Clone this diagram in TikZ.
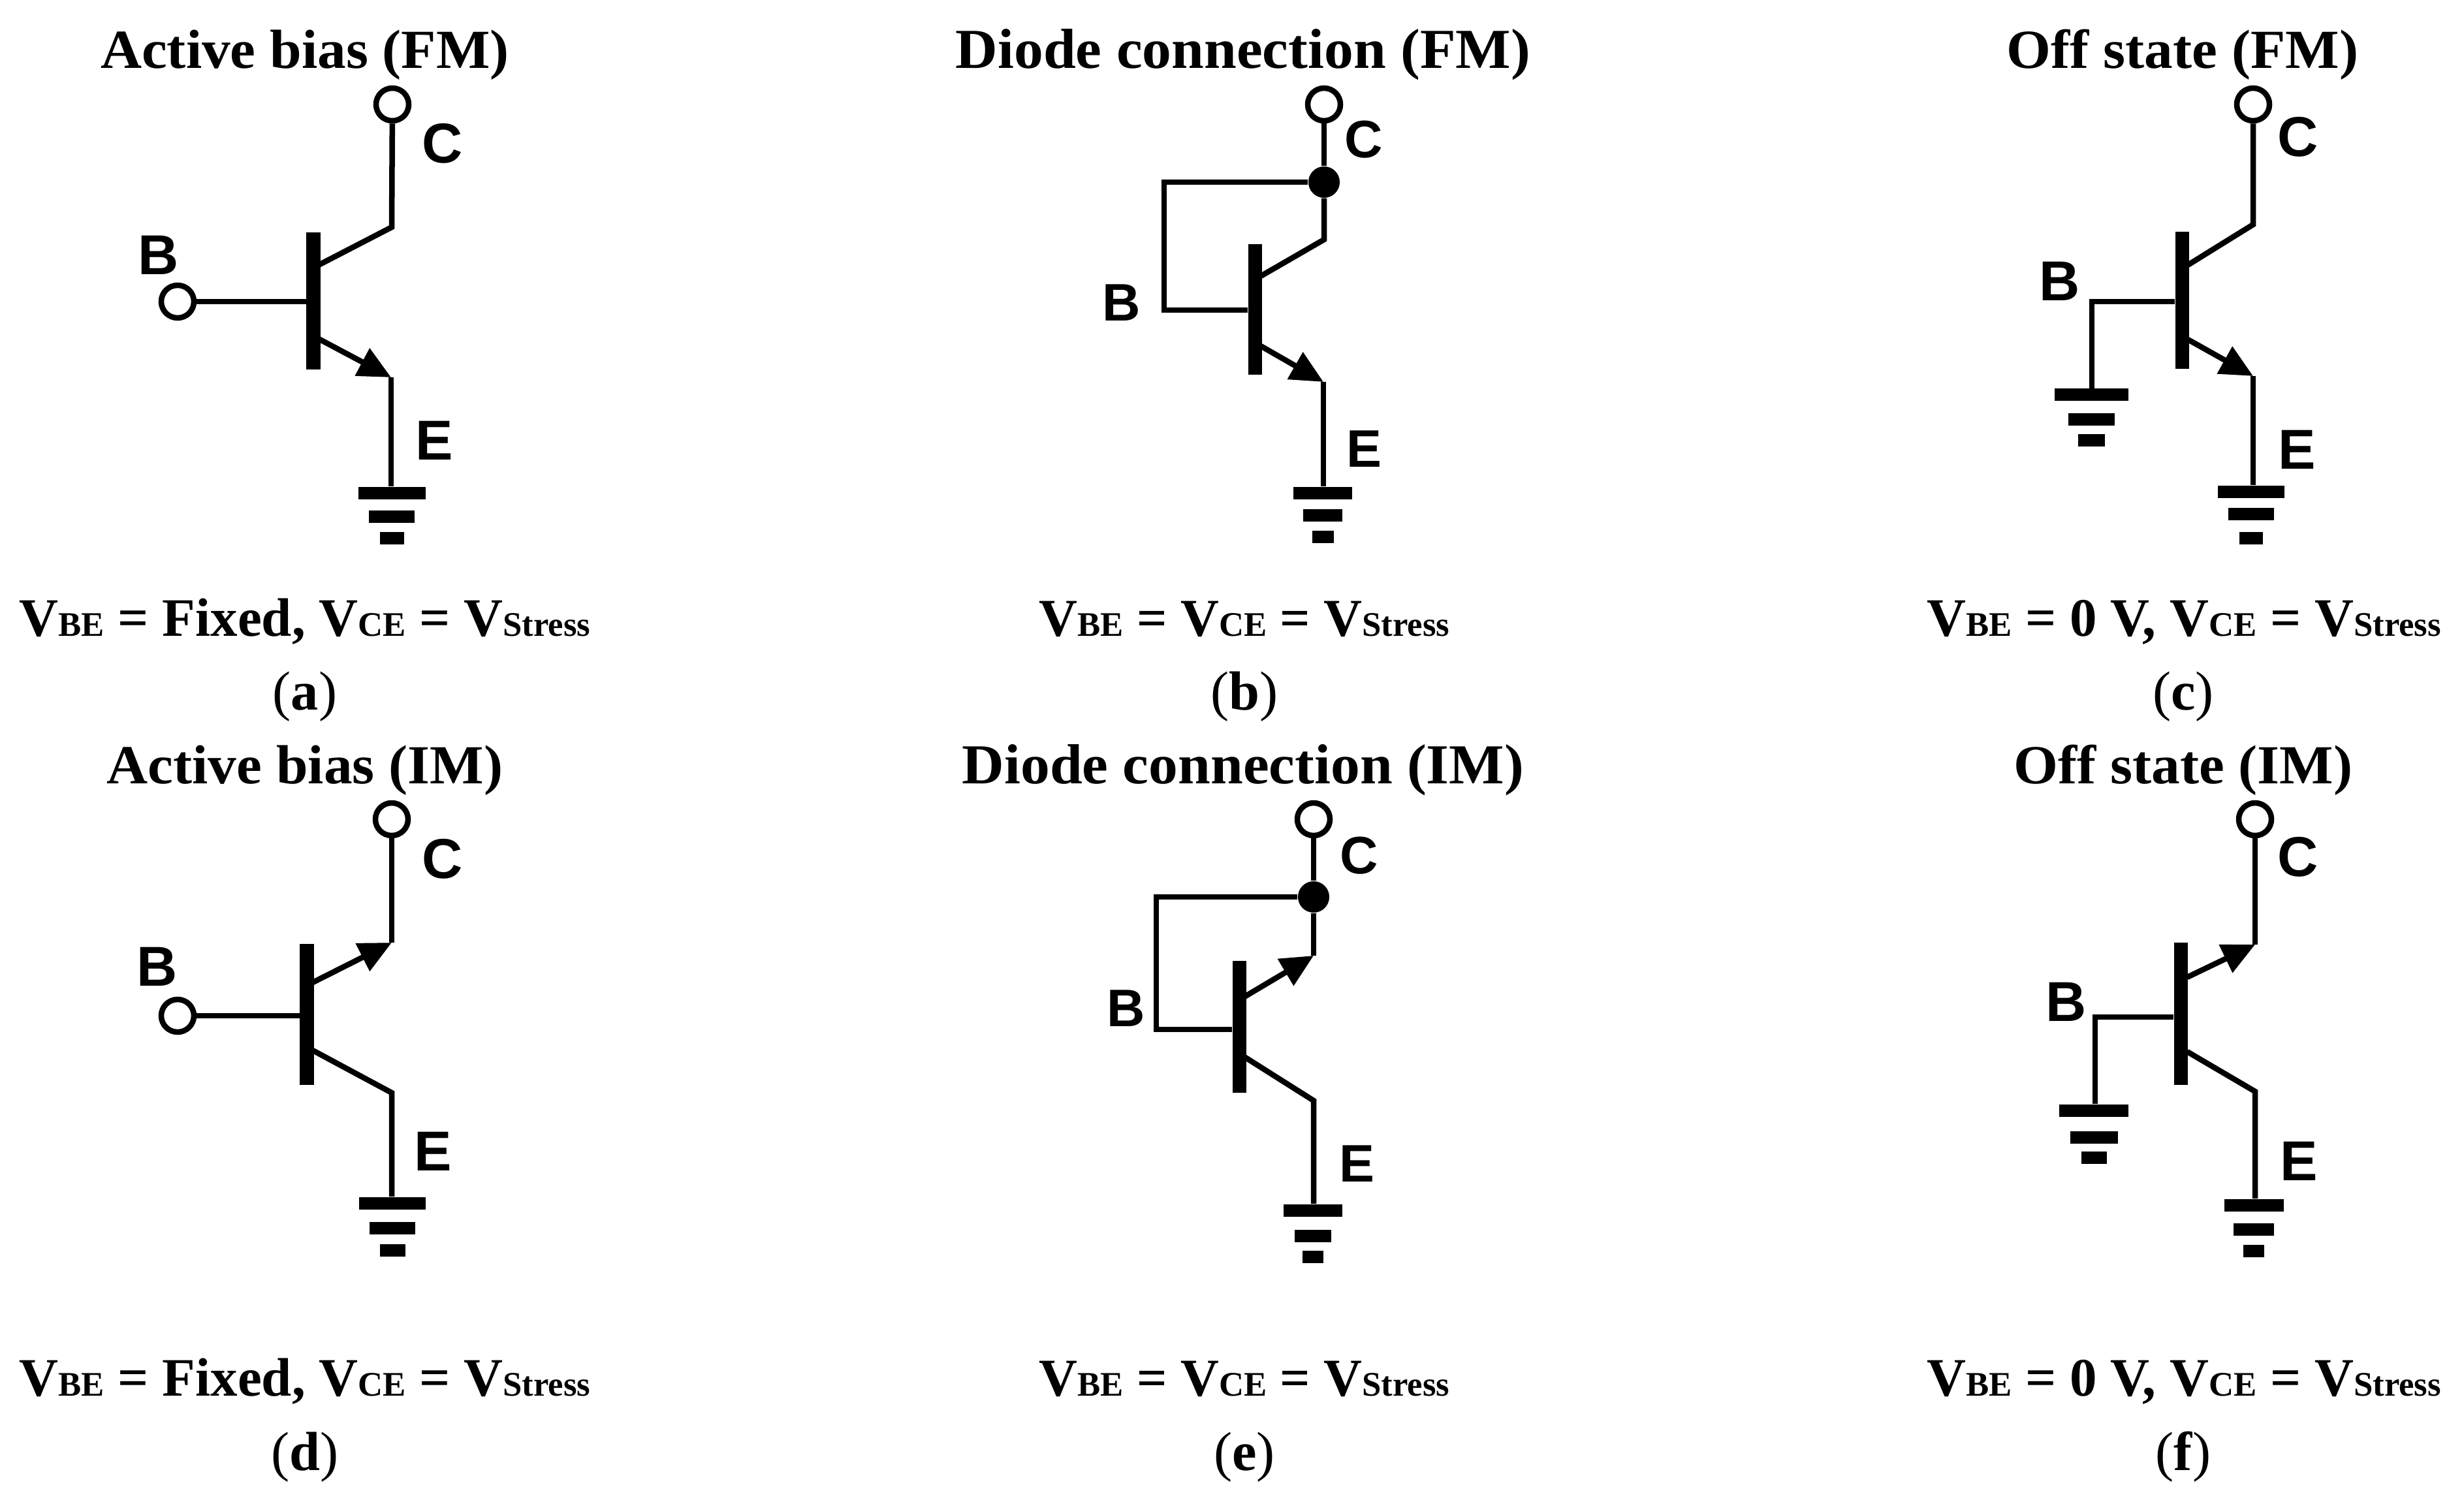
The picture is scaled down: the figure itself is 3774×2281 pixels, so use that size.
\documentclass[tikz,border=0pt]{standalone}
\usepackage{fontspec}
\usetikzlibrary{arrows.meta}
\setmainfont{Liberation Serif}
\newfontfamily\ttlfont[FakeStretch=1.035]{Liberation Serif}
\newfontfamily\lblfont{Liberation Sans}
\newcommand{\sbs}[1]{{\fontsize{15}{15}\selectfont #1}}
\newcommand{\gnd}[8]{% name, cx, y1, w1, y2, w2, y3, w3
  \node[gbar,minimum width=#4*0.01cm] (#1a) at (#2,#3) {};
  \node[gbar,minimum width=#6*0.01cm] (#1b) at (#2,#5) {};
  \node[gbar,minimum width=#8*0.01cm] (#1c) at (#2,#7) {};}
\begin{document}
\begin{tikzpicture}[x=0.01cm,y=-0.01cm,
  wire/.style={line width=0.085cm,line join=miter,draw=black},
  emit/.style={wire,-{Triangle[length=0.5cm,width=0.46cm]}},
  barbox/.style={fill=black,draw=none,inner sep=0,minimum width=0.21cm},
  gbar/.style={fill=black,draw=none,inner sep=0,minimum height=0.19cm,anchor=north},
  term/.style={circle,draw=black,fill=white,line width=0.085cm,inner sep=0,minimum size=0.5cm},
  jdot/.style={circle,fill=black,draw=none,inner sep=0,minimum size=0.48cm},
  ttl/.style={anchor=base,inner sep=0,font=\ttlfont\bfseries\fontsize{24}{24}\selectfont},
  ttw/.style={anchor=base,inner sep=0,font=\ttlfont\bfseries\fontsize{24.6}{24.6}\selectfont},
  frm/.style={anchor=base,inner sep=0,font=\bfseries\fontsize{23.2}{24}\selectfont},
  frw/.style={anchor=base,inner sep=0,font=\bfseries\fontsize{23.6}{24}\selectfont},
  captxt/.style={anchor=base,inner sep=0,font=\fontsize{24}{24}\selectfont},
  lbl/.style={inner sep=0,font=\lblfont\bfseries\fontsize{24.5}{24.5}\selectfont},
  lbs/.style={inner sep=0,font=\lblfont\bfseries\fontsize{23}{23}\selectfont}]
\useasboundingbox (0,0) rectangle (3774,2281);

% ---- (a)
\node[ttl] (ta) at (467,104) {Active bias (FM)};
\node[term] (ca) at (601,160) {};
\node[term] (ba) at (272,462) {};
\node[barbox,minimum height=2.09cm] (qa) at (480,461) {};
\coordinate (ka) at (600,348); \coordinate (da) at (488,406);
\coordinate (fa) at (488,519); \coordinate (ga) at (599,578); \coordinate (ha) at (599,745);
\draw[wire] (ca) -- (ka) -- (da);
\draw[wire] (ba) -- (qa.west |- ba);
\draw[emit] (fa) -- (ga);
\draw[wire] (ga) -- (ha);
\gnd{ga}{600}{745}{103}{781}{70}{814}{37}
\node[lbl] (lca) at (678,220) {C};
\node[lbl] (lba) at (243,391) {B};
\node[lbl] (lea) at (665,675) {E};
\node[frw] (fma) at (467,974) {V\sbs{BE} = Fixed, V\sbs{CE} = V\sbs{Stress}};
\node[captxt] (cpa) at (467,1087) {(\textbf{a})};

% ---- (b)
\node[ttw] (tb) at (1904,104) {Diode connection (FM)};
\node[term] (cb) at (2028,160) {};
\node[jdot] (jb) at (2028,279) {};
\node[barbox,minimum height=2.0cm] (qb) at (1922,474) {};
\coordinate (kb) at (2028,367); \coordinate (db) at (1931,423);
\coordinate (lb) at (1783,279); \coordinate (mb) at (1783,475);
\coordinate (fb) at (1931,530); \coordinate (gb) at (2027,585); \coordinate (hb) at (2027,745);
\draw[wire] (cb) -- (jb);
\draw[wire] (jb) -- (kb) -- (db);
\draw[wire] (jb) -- (lb) -- (mb) -- (qb.west |- mb);
\draw[emit] (fb) -- (gb);
\draw[wire] (gb) -- (hb);
\gnd{gb}{2026}{745}{90}{779}{60}{812}{33}
\node[lbs] (lcb) at (2089,214) {C};
\node[lbs] (lbb) at (1718,464) {B};
\node[lbs] (leb) at (2089,688) {E};
\node[frm] (fmb) at (1906,974) {V\sbs{BE} = V\sbs{CE} = V\sbs{Stress}};
\node[captxt] (cpb) at (1906,1087) {(\textbf{b})};

% ---- (c)
\node[ttl] (tc) at (3343,104) {Off state (FM)};
\node[term] (cc) at (3451,160) {};
\node[barbox,minimum height=2.09cm] (qc) at (3342,460) {};
\coordinate (kc) at (3451,344); \coordinate (dc) at (3351,406);
\coordinate (lc) at (3204,462); \coordinate (mc) at (3204,596);
\coordinate (fc) at (3351,520); \coordinate (gc) at (3451,576); \coordinate (hc) at (3451,743);
\draw[wire] (cc) -- (kc) -- (dc);
\draw[wire] (qc.west |- lc) -- (lc) -- (mc);
\draw[emit] (fc) -- (gc);
\draw[wire] (gc) -- (hc);
\gnd{gcb}{3203}{594}{113}{632}{71}{664}{41}
\gnd{gc}{3448}{743}{102}{777}{70}{814}{36}
\node[lbl] (lcc) at (3520,210) {C};
\node[lbl] (lbc) at (3155,431) {B};
\node[lbl] (lec) at (3518,689) {E};
\node[frw] (fmc) at (3345,974) {V\sbs{BE} = 0 V, V\sbs{CE} = V\sbs{Stress}};
\node[captxt] (cpc) at (3344,1087) {(\textbf{c})};

% ---- (d)
\node[ttl] (td) at (467,1200) {Active bias (IM)};
\node[term] (cd) at (600,1255) {};
\node[term] (bd) at (272,1556) {};
\node[barbox,minimum height=2.15cm] (qd) at (470,1554) {};
\coordinate (kd) at (600,1444); \coordinate (dd) at (479,1505);
\coordinate (fd) at (479,1609); \coordinate (gd) at (600,1674); \coordinate (hd) at (600,1833);
\draw[wire] (cd) -- (kd);
\draw[emit] (dd) -- (kd);
\draw[wire] (bd) -- (qd.west |- bd);
\draw[wire] (fd) -- (gd) -- (hd);
\gnd{gd}{601}{1833}{102}{1871}{70}{1905}{39}
\node[lbl] (lcd) at (678,1316) {C};
\node[lbl] (lbd) at (241,1481) {B};
\node[lbl] (led) at (663,1764) {E};
\node[frw] (fmd) at (467,2138) {V\sbs{BE} = Fixed, V\sbs{CE} = V\sbs{Stress}};
\node[captxt] (cpd) at (467,2252) {(\textbf{d})};

% ---- (e)
\node[ttw] (te) at (1904,1200) {Diode connection (IM)};
\node[term] (ce) at (2012,1255) {};
\node[jdot] (je) at (2012,1374) {};
\node[barbox,minimum height=2.01cm] (qe) at (1898,1573) {};
\coordinate (ke) at (2012,1464); \coordinate (de) at (1906,1527);
\coordinate (le) at (1771,1374); \coordinate (me) at (1771,1577);
\coordinate (fe) at (1906,1619); \coordinate (ge) at (2012,1686); \coordinate (he) at (2012,1844);
\draw[wire] (ce) -- (je);
\draw[wire] (je) -- (ke);
\draw[emit] (de) -- (ke);
\draw[wire] (je) -- (le) -- (me) -- (qe.west |- me);
\draw[wire] (fe) -- (ge) -- (he);
\gnd{ge}{2011}{1844}{90}{1883}{56}{1915}{32}
\node[lbs] (lce) at (2082,1311) {C};
\node[lbs] (lbe) at (1725,1545) {B};
\node[lbs] (lee) at (2078,1783) {E};
\node[frm] (fme) at (1906,2138) {V\sbs{BE} = V\sbs{CE} = V\sbs{Stress}};
\node[captxt] (cpe) at (1906,2252) {(\textbf{e})};

% ---- (f)
\node[ttl] (tf) at (3344,1200) {Off state (IM)};
\node[term] (cf) at (3454,1255) {};
\node[barbox,minimum height=2.17cm] (qf) at (3340,1553) {};
\coordinate (kf) at (3454,1447); \coordinate (df) at (3350,1497);
\coordinate (lf) at (3209,1558); \coordinate (mf) at (3209,1691);
\coordinate (ff) at (3350,1611); \coordinate (gf) at (3454,1672); \coordinate (hf) at (3454,1836);
\draw[wire] (cf) -- (kf);
\draw[emit] (df) -- (kf);
\draw[wire] (qf.west |- lf) -- (lf) -- (mf);
\draw[wire] (ff) -- (gf) -- (hf);
\gnd{gfb}{3207}{1691}{106}{1732}{73}{1763}{39}
\gnd{gf}{3452}{1836}{91}{1873}{62}{1906}{32}
\node[lbl] (lcf) at (3520,1313) {C};
\node[lbl] (lbf) at (3165,1535) {B};
\node[lbl] (lef) at (3521,1779) {E};
\node[frw] (fmf) at (3345,2138) {V\sbs{BE} = 0 V, V\sbs{CE} = V\sbs{Stress}};
\node[captxt] (cpf) at (3344,2252) {(\textbf{f})};
\end{tikzpicture}
\end{document}
